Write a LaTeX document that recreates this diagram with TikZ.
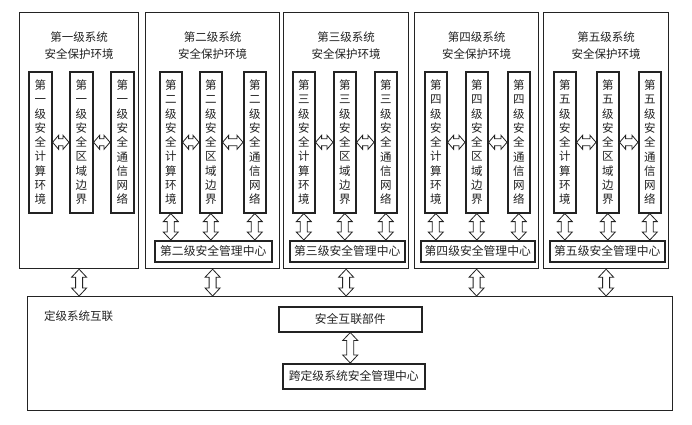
\documentclass[tikz,border=0pt]{standalone}
\usepackage{fontspec}
\newfontfamily\cjk{Noto Sans CJK SC}
\usetikzlibrary{calc}
\definecolor{ink}{RGB}{35,35,35}
\newcommand{\boxat}[7]{%
  \node[#6, anchor=north west, minimum width={(#4-#2)*1pt}, minimum height={(#5-#3)*1pt}] (#1) at (#2,#3) {#7};}
\newcommand{\blockarrow}[5]{%
  \draw[blockline] let \p1=(#1), \p2=(#2), \n1={veclen(\x2-\x1,\y2-\y1)}, \n2={atan2(\y2-\y1,\x2-\x1)} in
  [shift={(\p1)}, rotate=\n2] (0,0) -- (#3,#4) -- (#3,#5) -- ({\n1-#3},#5) -- ({\n1-#3},#4) -- (\n1,0)
  -- ({\n1-#3},-#4) -- ({\n1-#3},-#5) -- (#3,-#5) -- (#3,-#4) -- cycle;}
\tikzset{
  outerbox/.style={draw=ink, line width=1.2pt, inner sep=0pt},
  colbox/.style={draw=ink, line width=1.6pt, inner sep=0pt, align=center,
    font=\cjk\fontsize{11.5}{14.3}\selectfont, text=ink},
  mgmtbox/.style={draw=ink, line width=1.5pt, inner sep=0pt,
    font=\cjk\fontsize{11.8}{14}\selectfont, text=ink},
  titletext/.style={align=center, inner sep=0pt, font=\cjk\fontsize{11.5}{17}\selectfont, text=ink},
  plaintext/.style={inner sep=0pt, font=\cjk\fontsize{11.5}{14}\selectfont, text=ink},
  blockline/.style={draw=ink, line width=0.8pt, fill=white, line join=miter},
}
\begin{document}
\begin{tikzpicture}[x=1pt, y=-1pt]
\useasboundingbox[fill=white] (0,0) rectangle (692,424);
% ---- level 1
\boxat{b1}{19}{12}{138}{268}{outerbox}{}
\node[titletext] (t1) at ($(b1.north)+(0,34)$) {第一级系统\\安全保护环境};
\boxat{c11}{28}{71}{51}{212}{colbox}{第\\一\\级\\安\\全\\计\\算\\环\\境}
\boxat{c12}{69}{71}{92}{212}{colbox}{第\\一\\级\\安\\全\\区\\域\\边\\界}
\boxat{c13}{110}{71}{133}{212}{colbox}{第\\一\\级\\安\\全\\通\\信\\网\\络}
% ---- level 2
\boxat{b2}{145}{12}{279}{268}{outerbox}{}
\node[titletext] (t2) at ($(b2.north)+(0,34)$) {第二级系统\\安全保护环境};
\boxat{c21}{159}{71}{181}{212}{colbox}{第\\二\\级\\安\\全\\计\\算\\环\\境}
\boxat{c22}{199}{71}{221}{212}{colbox}{第\\二\\级\\安\\全\\区\\域\\边\\界}
\boxat{c23}{243}{71}{265}{212}{colbox}{第\\二\\级\\安\\全\\通\\信\\网\\络}
\boxat{m2}{154}{240}{271}{261}{mgmtbox}{第二级安全管理中心}
% ---- level 3
\boxat{b3}{283}{12}{408}{268}{outerbox}{}
\node[titletext] (t3) at ($(b3.north)+(0,34)$) {第三级系统\\安全保护环境};
\boxat{c31}{292}{71}{314}{212}{colbox}{第\\三\\级\\安\\全\\计\\算\\环\\境}
\boxat{c32}{333}{71}{355}{212}{colbox}{第\\三\\级\\安\\全\\区\\域\\边\\界}
\boxat{c33}{374}{71}{396}{212}{colbox}{第\\三\\级\\安\\全\\通\\信\\网\\络}
\boxat{m3}{289}{240}{404}{261}{mgmtbox}{第三级安全管理中心}
% ---- level 4
\boxat{b4}{414}{12}{538}{268}{outerbox}{}
\node[titletext] (t4) at ($(b4.north)+(0,34)$) {第四级系统\\安全保护环境};
\boxat{c41}{424}{71}{446}{212}{colbox}{第\\四\\级\\安\\全\\计\\算\\环\\境}
\boxat{c42}{465}{71}{487}{212}{colbox}{第\\四\\级\\安\\全\\区\\域\\边\\界}
\boxat{c43}{507}{71}{529}{212}{colbox}{第\\四\\级\\安\\全\\通\\信\\网\\络}
\boxat{m4}{420}{240}{534}{261}{mgmtbox}{第四级安全管理中心}
% ---- level 5
\boxat{b5}{543}{12}{668}{268}{outerbox}{}
\node[titletext] (t5) at ($(b5.north)+(0,34)$) {第五级系统\\安全保护环境};
\boxat{c51}{553}{71}{575}{212}{colbox}{第\\五\\级\\安\\全\\计\\算\\环\\境}
\boxat{c52}{596}{71}{618}{212}{colbox}{第\\五\\级\\安\\全\\区\\域\\边\\界}
\boxat{c53}{638}{71}{660}{212}{colbox}{第\\五\\级\\安\\全\\通\\信\\网\\络}
\boxat{m5}{549}{240}{664}{261}{mgmtbox}{第五级安全管理中心}
% ---- bottom interconnection
\boxat{bb}{27}{296}{672}{410}{outerbox}{}
\node[plaintext, anchor=west] (bl) at (44,316) {定级系统互联};
\boxat{sec}{278}{306}{421}{331}{mgmtbox}{安全互联部件}
\boxat{cross}{282}{363}{424}{388}{mgmtbox}{跨定级系统安全管理中心}
% ---- horizontal arrows
\foreach \k in {1,...,5}{
  \blockarrow{c\k1.east}{c\k2.west}{6}{7}{3.5}
  \blockarrow{c\k2.east}{c\k3.west}{6}{7}{3.5}
}
% ---- column to management arrows
\foreach \k in {2,...,5}{
  \foreach \j in {1,2,3}{
    \blockarrow{c\k\j.south}{c\k\j.south |- m\k.north}{8}{7.5}{3.5}
  }
}
% ---- level boxes to interconnection
\foreach \k in {1,...,5}{
  \blockarrow{b\k.south}{b\k.south |- bb.north}{8}{7.5}{3.5}
}
\blockarrow{sec.south}{sec.south |- cross.north}{8}{7.5}{3.5}
\end{tikzpicture}
\end{document}
